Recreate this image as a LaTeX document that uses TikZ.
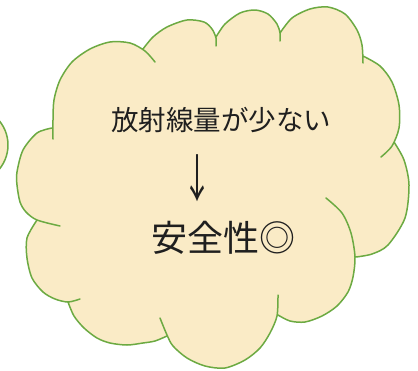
\documentclass[tikz,border=0pt]{standalone}
\usepackage{fontspec}
\usepackage{graphicx}
\newfontfamily\jp{Noto Sans CJK JP}
\definecolor{cloudfill}{RGB}{250,235,198}
\definecolor{cloudline}{RGB}{108,170,66}
\begin{document}
\begin{tikzpicture}[x=1pt,y=-1pt,
  outline/.style={draw=cloudline, line width=1.5pt, line cap=round, line join=round},
  label/.style={inner sep=0pt, text=black!88}]
\useasboundingbox (0,0) rectangle (418,370);
\fill[white] (0,0) rectangle (418,370);
% partial cloud at the left edge
\begin{scope}
  \clip (0,0) rectangle (418,370);
  \filldraw[fill=cloudfill, outline] (-30,145) circle (38);
\end{scope}
% main cloud: fill
\fill[cloudfill]
  plot[smooth] coordinates {(53,139) (53,120) (54,100) (60,80) (72,62) (90,49) (110,42) (130,43) (145,51) (155,62)}
  -- plot[smooth] coordinates {(143,49) (153,37) (167,27) (187,20) (204,22) (212,29) (216,38) (216,46)}
  -- plot[smooth] coordinates {(216,37) (225,24) (240,13) (255,10) (268,14) (277,24) (280,33) (280,41)}
  -- plot[smooth] coordinates {(280,33) (292,18) (310,9) (328,7) (345,14) (357,30) (362,45) (363,63)}
  -- plot[smooth] coordinates {(363,56) (380,66) (392,82) (399,105) (399,128) (392,146) (381,157)}
  -- plot[smooth] coordinates {(394,142) (404,160) (409,185) (405,218) (388,245) (372,254) (356,257)}
  -- plot[smooth] coordinates {(326,198) (342,213) (351,233) (355,257) (353,277) (348,292) (337,306) (322,316) (305,322) (290,321) (278,315)}
  -- plot[smooth] coordinates {(278,295) (277,316) (270,333) (260,348) (245,360) (225,368) (205,366) (187,358) (173,346) (167,335) (160,318)}
  -- plot[smooth] coordinates {(167,336) (155,341) (143,343) (127,345) (110,343) (97,338) (84,328) (74,316) (68,302)}
  -- plot[smooth] coordinates {(80,299) (68,302) (55,299) (43,292) (32,278) (27,258) (27,238) (37,220)}
  -- plot[smooth] coordinates {(60,226) (37,220) (26,212) (20,202) (17,185) (17,172) (23,150) (37,133) (52,128)}
  -- cycle;
% main cloud: outline, one bump at a time
\draw[outline]
  plot[smooth] coordinates {(53,139) (53,120) (54,100) (60,80) (72,62) (90,49) (110,42) (130,43) (145,51) (155,62)}
  plot[smooth] coordinates {(143,49) (153,37) (167,27) (187,20) (204,22) (212,29) (216,38) (216,46)}
  plot[smooth] coordinates {(216,37) (225,24) (240,13) (255,10) (268,14) (277,24) (280,33) (280,41)}
  plot[smooth] coordinates {(280,33) (292,18) (310,9) (328,7) (345,14) (357,30) (362,45) (363,63)}
  plot[smooth] coordinates {(363,56) (380,66) (392,82) (399,105) (399,128) (392,146) (381,157)}
  plot[smooth] coordinates {(394,142) (404,160) (409,185) (405,218) (388,245) (372,254) (356,257)}
  plot[smooth] coordinates {(326,198) (342,213) (351,233) (355,257) (353,277) (348,292) (337,306) (322,316) (305,322) (290,321) (278,315)}
  plot[smooth] coordinates {(278,295) (277,316) (270,333) (260,348) (245,360) (225,368) (205,366) (187,358) (173,346) (167,335) (160,318)}
  plot[smooth] coordinates {(167,336) (155,341) (143,343) (127,345) (110,343) (97,338) (84,328) (74,316) (68,302)}
  plot[smooth] coordinates {(80,299) (68,302) (55,299) (43,292) (32,278) (27,258) (27,238) (37,220)}
  plot[smooth] coordinates {(60,226) (37,220) (26,212) (20,202) (17,185) (17,172) (23,150) (37,133) (52,128)};
% texts
\node[label, font=\jp\fontsize{27.5}{30}\selectfont] (cause) at (221,120) {放射線量が少ない};
\node[label, font=\jp\fontsize{30}{32}\selectfont] (arrow) at (197,178) {\scalebox{1}[1.7]{↓}};
\node[label, font=\jp\fontsize{36}{40}\selectfont] (effect) at (223,238) {安全性◎};
\end{tikzpicture}
\end{document}
